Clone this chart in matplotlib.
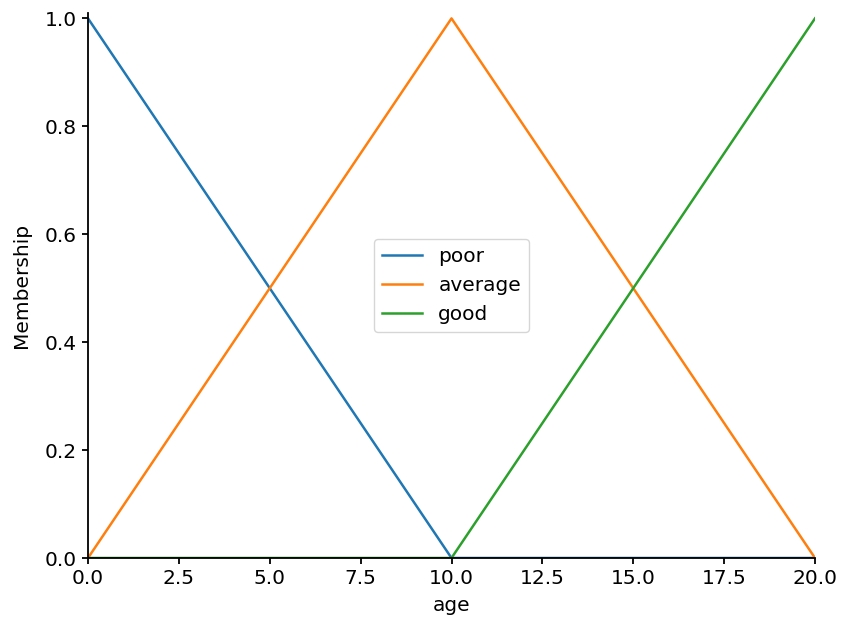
import matplotlib
matplotlib.use("Agg")
import matplotlib.pyplot as plt
import numpy as np

x_age = [0, 5, 10, 15, 20]
poor = [1.0, 0.5, 0.0, 0.0, 0.0]
average = [0.0, 0.5, 1.0, 0.5, 0.0]
good = [0.0, 0.0, 0.0, 0.5, 1.0]
labels = ["poor", "average", "good"]

plt.rcParams["font.size"] = 14.5
fig = plt.figure(figsize=(8.41, 6.2), dpi=100)
ax = fig.add_axes([88/841, 1-558/620, (815-88)/841, (558-13)/620])
for ys, lab in zip([poor, average, good], labels):
    ax.plot(x_age, ys, linewidth=1.8, label=lab)
ax.set_xlim(0, 20)
ax.set_ylim(0, 1.01)
ax.spines["top"].set_visible(False)
ax.spines["right"].set_visible(False)
ax.spines["left"].set_linewidth(1.3)
ax.spines["bottom"].set_linewidth(1.3)
ax.tick_params(width=1.3, length=4.5)
ax.set_xlabel("age", labelpad=6)
ax.set_ylabel("Membership", labelpad=10)
ax.legend(loc="center")
fig.savefig("out.png", dpi=100)
